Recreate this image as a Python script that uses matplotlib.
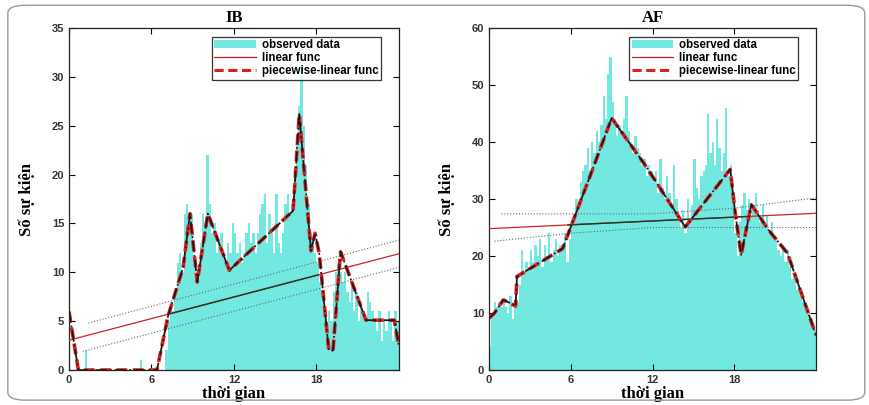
import matplotlib
matplotlib.use("Agg")
import matplotlib.pyplot as plt
import numpy as np
from matplotlib.patches import FancyBboxPatch, Patch
from matplotlib.lines import Line2D

# ---- du lieu doc tu hinh (moi gia tri = 10 phut) ----
ib_counts = [
    0, 0, 0, 0, 0, 0,
    0, 2, 0, 0, 0, 0,
    0, 0, 0, 0, 0, 0,
    0, 0, 0, 0, 0, 0,
    0, 0, 0, 0, 0, 0,
    0, 1, 0, 0, 0, 0,
    0, 0, 0, 0, 0, 0,
    2, 5, 7, 6, 8, 11,
    12, 10, 16, 17, 15, 16,
    11, 9, 10, 13, 16, 15,
    22, 17, 14, 15, 12, 13,
    14, 12, 11, 13, 12, 15,
    14, 12, 13, 11, 12, 14,
    15, 13, 14, 12, 14, 16,
    17, 18, 13, 16, 14, 12,
    18, 13, 12, 14, 17, 18,
    16, 17, 20, 24, 27, 31,
    25, 21, 17, 14, 13, 12,
    11, 9, 8, 6, 5, 6,
    5, 8, 10, 11, 10, 9,
    10, 8, 7, 9, 6, 8,
    5, 7, 6, 5, 8, 7,
    6, 5, 4, 6, 3, 5,
    4, 6, 5, 3, 6, 5,
]
af_counts = [
    4, 10, 12, 11, 12, 11,
    12, 11, 10, 13, 9, 11,
    12, 15, 21, 17, 19, 18,
    21, 19, 22, 20, 23, 18,
    22, 20, 24, 19, 21, 23,
    20, 22, 21, 24, 19, 23,
    26, 27, 30, 29, 33, 35,
    36, 39, 35, 40, 38, 42,
    40, 43, 48, 44, 52, 55,
    47, 44, 41, 43, 42, 44,
    48, 42, 40, 38, 41, 39,
    38, 36, 37, 34, 36, 35,
    33, 35, 31, 37, 32, 30,
    34, 31, 29, 36, 30, 27,
    25, 28, 24, 30, 26, 29,
    37, 32, 30, 34, 35, 36,
    45, 38, 40, 36, 44, 39,
    35, 38, 46, 34, 36, 30,
    24, 20, 26, 29, 31, 28,
    30, 27, 29, 31, 28, 26,
    29, 25, 27, 24, 26, 23,
    23, 21, 20, 22, 19, 21,
    18, 16, 17, 14, 15, 13,
    12, 11, 10, 9, 8, 7,
]

# ham tuyen tinh tung doan
ib_pw_x = [0, 0.68, 6.4, 7.2, 8.3, 8.8, 9.33, 10.1, 11.66, 16.3, 16.75,
           17.6, 17.9, 18.2, 18.9, 19.2, 19.75, 21.6, 23.66, 24]
ib_pw_y = [6, 0, 0, 5.5, 10.5, 16, 9, 16, 10.2, 16.3, 26.2,
           12.2, 14, 11.9, 2, 2, 12.1, 5.1, 5.1, 2.4]
af_pw_x = [0, 0.4, 1.05, 1.5, 1.95, 2.05, 5.4, 7.3, 9.0, 11.5, 14.4,
           17.7, 18.07, 18.5, 19.25, 20.5, 21.9, 24]
af_pw_y = [9.1, 10, 12.3, 11.8, 11.2, 16.4, 21.3, 33.3, 44.2, 35.8, 25.1,
           35.2, 27.5, 20.2, 29.0, 24.6, 20.5, 6.1]

# ham tuyen tinh va khoang tin cay
ib_lin_x = [0, 24]
ib_lin_y = [3.05, 11.9]
ib_black_x = [7.2, 18.1]
ib_up_x = [1.4, 24]
ib_up_y = [4.8, 13.3]
ib_lo_x = [1.0, 24]
ib_lo_y = [1.9, 10.5]

af_lin_x = [0, 24]
af_lin_y = [24.8, 27.5]
af_black_x = [5.8, 19.0]
af_up_x = [0.9, 12, 18, 24]
af_up_y = [27.4, 27.4, 28.4, 30.2]
af_lo_x = [0.4, 6, 12, 24]
af_lo_y = [22.6, 24.0, 25.0, 25.0]

CYAN = "#72E9E0"
SERIF = "Liberation Serif"
SANS = "Liberation Sans"


def draw_panel(ax, title, counts, pw_x, pw_y, lin_x, lin_y, black_x,
               up_x, up_y, lo_x, lo_y, ymax, ystep):
    xs = np.arange(len(counts)) / 6.0
    ax.bar(xs, counts, width=1 / 6.0, align="edge", color=CYAN,
           edgecolor="none", zorder=1)

    # duong tuyen tinh (do) va doan mau den
    ax.plot(lin_x, lin_y, color="#cc2222", lw=0.9, zorder=3)
    bx = np.array(black_x)
    by = np.interp(bx, lin_x, lin_y)
    ax.plot(bx, by, color="#1a3a30", lw=1.0, zorder=3)
    ax.plot(up_x, up_y, color="#666666", lw=0.8, ls=":", zorder=3)
    ax.plot(lo_x, lo_y, color="#666666", lw=0.8, ls=":", zorder=3)

    # ham tung doan
    ax.plot(pw_x, pw_y, color="#dd1f1f", lw=2.6, ls=(0, (3, 1.5)), zorder=4)
    ax.plot(pw_x, pw_y, color="#1a1a1a", lw=1.3, ls="-.", zorder=5)

    ax.set_xlim(0, 24)
    ax.set_ylim(0, ymax)
    ax.set_xticks([0, 6, 12, 18])
    ax.set_yticks(np.arange(0, ymax + 1, ystep))
    ax.tick_params(direction="in", top=True, right=True, length=4,
                   labelsize=8, width=0.8)
    for lab in ax.get_xticklabels() + ax.get_yticklabels():
        lab.set_fontfamily(SANS)
        lab.set_fontweight("bold")
        lab.set_color("#333333")
    for s in ax.spines.values():
        s.set_linewidth(0.9)
        s.set_color("#222222")

    ax.set_title(title, fontfamily=SERIF, fontweight="bold", fontsize=12,
                 pad=4)
    ax.set_xlabel("thời gian", fontfamily=SERIF, fontweight="bold",
                  fontsize=12, labelpad=1)
    ax.set_ylabel("Số sự kiện", fontfamily=SERIF, fontweight="bold",
                  fontsize=12, labelpad=12)

    handles = [
        Patch(facecolor=CYAN, edgecolor="none"),
        Line2D([], [], color="#cc2222", lw=0.9),
        Line2D([], [], color="#dd1f1f", lw=2.2, ls=(0, (3, 1.5))),
    ]
    leg = ax.legend(handles,
                    ["observed data", "linear func", "piecewise-linear func"],
                    loc="upper right", bbox_to_anchor=(0.955, 0.985),
                    prop={"family": SANS, "size": 8.3, "weight": "bold"},
                    frameon=True, fancybox=False, borderpad=0.2,
                    labelspacing=0.1, handlelength=3.6, handletextpad=0.5,
                    borderaxespad=0.3)
    leg.get_frame().set_edgecolor("black")
    leg.get_frame().set_linewidth(0.9)


fig = plt.figure(figsize=(8.7, 4.05), dpi=100)

# khung vien bo tron
frame = FancyBboxPatch((0.009, 0.012), 0.985, 0.975,
                       boxstyle="round,pad=0,rounding_size=0.02",
                       transform=fig.transFigure, facecolor="none",
                       edgecolor="#999999", lw=1.0)
fig.patches.append(frame)

ax1 = fig.add_axes([0.0793, 0.0864, 0.3793, 0.8444])
ax2 = fig.add_axes([0.5621, 0.0864, 0.3759, 0.8444])

draw_panel(ax1, "IB", ib_counts, ib_pw_x, ib_pw_y, ib_lin_x, ib_lin_y,
           ib_black_x, ib_up_x, ib_up_y, ib_lo_x, ib_lo_y, 35, 5)
draw_panel(ax2, "AF", af_counts, af_pw_x, af_pw_y, af_lin_x, af_lin_y,
           af_black_x, af_up_x, af_up_y, af_lo_x, af_lo_y, 60, 10)

plt.savefig("out.png", dpi=100)
plt.close()
